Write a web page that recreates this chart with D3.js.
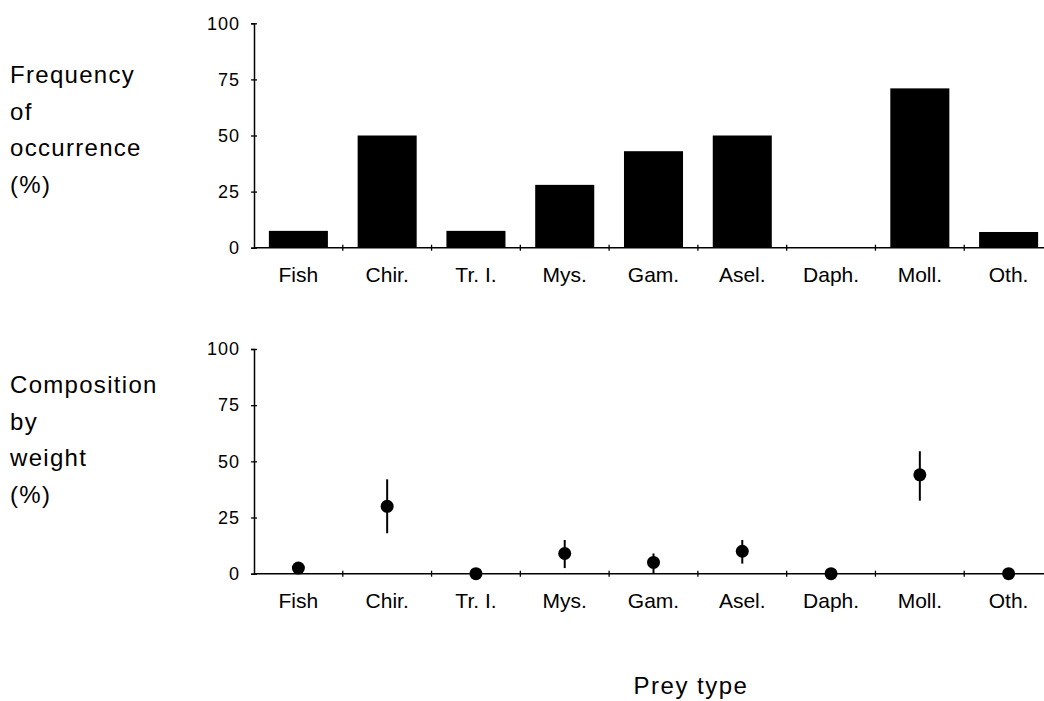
<!DOCTYPE html>
<html>
<head>
<meta charset="utf-8">
<script src="https://cdn.jsdelivr.net/npm/d3@7"></script>
<style>
  body { margin: 0; background: #fff; }
  text { font-family: "Liberation Sans", Arial, sans-serif; fill: #000; }
</style>
</head>
<body>
<div id="chart"></div>
<script>
const categories = ["Fish", "Chir.", "Tr. I.", "Mys.", "Gam.", "Asel.", "Daph.", "Moll.", "Oth."];
const frequency = [7.5, 50, 7.5, 28, 43, 50, 0, 71, 7];
const weight = [2.5, 30, 0, 9, 5, 10, 0, 44, 0];
const weightLow = [null, 18, null, 2.5, 0, 4.5, null, 32.5, null];
const weightHigh = [null, 42, null, 15, 9, 15, null, 54.5, null];
const yTicks = [0, 25, 50, 75, 100];

const width = 1044;
const height = 701;
const axisX = 254;

const svg = d3.select("#chart")
  .append("svg")
    .attr("width", width)
    .attr("height", height)
    .attr("viewBox", [0, 0, width, height]);

const x = d3.scaleBand()
  .domain(categories)
  .range([axisX, 1053])
  .padding(0);

const barWidth = x.bandwidth() * 0.665;

// draws the axes of one panel, returns its y scale
function drawPanel(top, bottom, labelLines, labelY) {
  const y = d3.scaleLinear().domain([0, 100]).range([bottom, top]);

  const yAxis = svg.append("g")
    .attr("transform", `translate(${axisX},0)`)
    .call(d3.axisLeft(y).tickValues(yTicks).tickSizeOuter(0).tickSize(3).tickPadding(11));
  yAxis.select(".domain").attr("stroke-width", 1.5);
  yAxis.selectAll(".tick line").attr("x1", 3).attr("stroke-width", 1.3);
  yAxis.selectAll(".tick text")
    .attr("font-size", 18)
    .attr("letter-spacing", 1)
    .style("font-family", "Liberation Sans, Arial, sans-serif");

  // x axis line
  svg.append("line")
    .attr("x1", axisX)
    .attr("x2", width)
    .attr("y1", bottom)
    .attr("y2", bottom)
    .attr("stroke", "#000")
    .attr("stroke-width", 1.5);

  // ticks at category boundaries
  svg.selectAll(null)
    .data(categories.slice(1))
    .join("line")
      .attr("x1", d => x(d))
      .attr("x2", d => x(d))
      .attr("y1", bottom - 3)
      .attr("y2", bottom + 3)
      .attr("stroke", "#000")
      .attr("stroke-width", 1.3);

  const xAxis = svg.append("g")
    .attr("transform", `translate(0,${bottom})`)
    .call(d3.axisBottom(x).tickSize(0).tickPadding(19));
  xAxis.select(".domain").remove();
  xAxis.selectAll(".tick text")
    .attr("font-size", 21)
    .style("font-family", "Liberation Sans, Arial, sans-serif");

  svg.append("text")
    .attr("x", 10)
    .attr("y", labelY)
    .attr("font-size", 24)
    .attr("letter-spacing", 1.3)
    .selectAll("tspan")
    .data(labelLines)
    .join("tspan")
      .attr("x", 10)
      .attr("dy", (d, i) => i === 0 ? 0 : 36.5)
      .text(d => d);

  return y;
}

// top panel: frequency bars
const yTop = drawPanel(23.3, 247.7, ["Frequency", "of", "occurrence", "(%)"], 83);

svg.selectAll(".bar")
  .data(categories)
  .join("rect")
    .attr("class", "bar")
    .attr("x", d => x(d) + (x.bandwidth() - barWidth) / 2)
    .attr("width", barWidth)
    .attr("y", (d, i) => yTop(frequency[i]))
    .attr("height", (d, i) => yTop(0) - yTop(frequency[i]))
    .attr("fill", "#000");

// bottom panel: weight with error bars
const yBot = drawPanel(349, 573.7, ["Composition", "by", "weight", "(%)"], 393);

svg.selectAll(".err")
  .data(categories.filter((d, i) => weightLow[i] !== null))
  .join("line")
    .attr("class", "err")
    .attr("x1", d => x(d) + x.bandwidth() / 2)
    .attr("x2", d => x(d) + x.bandwidth() / 2)
    .attr("y1", d => yBot(weightLow[categories.indexOf(d)]))
    .attr("y2", d => yBot(weightHigh[categories.indexOf(d)]))
    .attr("stroke", "#000")
    .attr("stroke-width", 2);

svg.selectAll(".dot")
  .data(categories)
  .join("circle")
    .attr("class", "dot")
    .attr("cx", d => x(d) + x.bandwidth() / 2)
    .attr("cy", (d, i) => yBot(weight[i]))
    .attr("r", 6.5)
    .attr("fill", "#000");

svg.append("text")
  .attr("x", 691)
  .attr("y", 694)
  .attr("text-anchor", "middle")
  .attr("font-size", 24)
  .attr("letter-spacing", 1.5)
  .text("Prey type");
</script>
</body>
</html>
